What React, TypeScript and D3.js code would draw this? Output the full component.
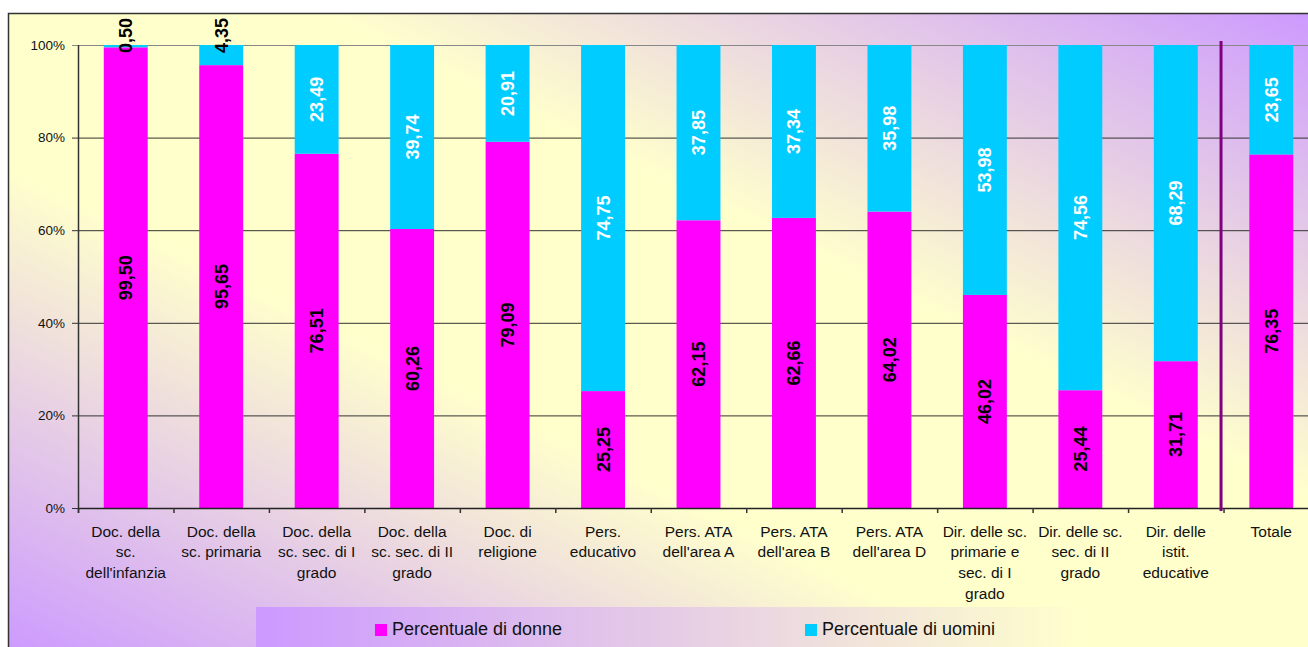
import React from 'react'
import * as d3 from 'd3'

// categorie (righe delle etichette dell'asse)
const categories = [
  ['Doc. della', 'sc.', "dell'infanzia"],
  ['Doc. della', 'sc. primaria'],
  ['Doc. della', 'sc. sec. di I', 'grado'],
  ['Doc. della', 'sc. sec. di II', 'grado'],
  ['Doc. di', 'religione'],
  ['Pers.', 'educativo'],
  ['Pers. ATA', "dell'area A"],
  ['Pers. ATA', "dell'area B"],
  ['Pers. ATA', "dell'area D"],
  ['Dir. delle sc.', 'primarie e', 'sec. di I', 'grado'],
  ['Dir. delle sc.', 'sec. di II', 'grado'],
  ['Dir. delle', 'istit.', 'educative'],
  ['Totale'],
]

const donne = [99.5, 95.65, 76.51, 60.26, 79.09, 25.25, 62.15, 62.66, 64.02, 46.02, 25.44, 31.71, 76.35]
const uomini = [0.5, 4.35, 23.49, 39.74, 20.91, 74.75, 37.85, 37.34, 35.98, 53.98, 74.56, 68.29, 23.65]

const yTicks = [0, 20, 40, 60, 80, 100]
const seriesNames = ['Percentuale di donne', 'Percentuale di uomini']
const colors = ['#FF00FF', '#00CCFF']

const FONT = 'Liberation Sans, Arial, sans-serif'

const fmt = (v: number) => d3.format('.2f')(v).replace('.', ',')

const App = () => {
  const left = 78
  const right = 1319
  const top = 45
  const bottom = 508

  const keys = categories.map((c) => c.join(' '))

  const x = d3
    .scaleBand()
    .domain(keys)
    .range([left, right])
    .paddingInner(0.54)
    .paddingOuter(0.27)

  const y = d3.scaleLinear().domain([0, 100]).range([bottom, top])

  const rows = keys.map((k, i) => ({ key: k, donne: donne[i], uomini: uomini[i] }))
  const stacked = d3.stack<any>().keys(['donne', 'uomini'])(rows)

  const step = x.step()
  const boundaries = d3.range(categories.length + 1).map((i) => left + i * step)

  return (
    <svg
      width={1308}
      height={647}
      style={{ position: 'absolute', left: 0, top: 0, display: 'block' }}
    >
      <defs>
        <linearGradient id="bg" x1="0" y1="1" x2="1" y2="0">
          <stop offset="0" stopColor="#CC99FF" />
          <stop offset="0.38" stopColor="#FFFFCC" />
          <stop offset="0.62" stopColor="#FFFFCC" />
          <stop offset="1" stopColor="#CC99FF" />
        </linearGradient>
        <linearGradient id="leg" x1="0" y1="0" x2="1" y2="0">
          <stop offset="0" stopColor="#CC99FF" />
          <stop offset="1" stopColor="#FFFFCC" />
        </linearGradient>
      </defs>

      {/* area del grafico */}
      <rect x={8.5} y={13.5} width={1310} height={642} fill="url(#bg)" stroke="#333" strokeWidth={1.5} />

      {/* griglia */}
      {yTicks.map((t) => (
        <line
          key={t}
          x1={left - 6}
          x2={right}
          y1={y(t) + 0.5}
          y2={y(t) + 0.5}
          stroke={t === 100 ? '#888' : '#333'}
          strokeWidth={1}
        />
      ))}

      {/* barre */}
      {stacked.map((s, si) =>
        s.map((d, i) => (
          <rect
            key={si + '-' + i}
            x={x(keys[i])}
            y={y(d[1])}
            width={x.bandwidth()}
            height={y(d[0]) - y(d[1])}
            fill={colors[si]}
          />
        ))
      )}

      {/* etichette dei valori */}
      {stacked.map((s, si) =>
        s.map((d, i) => {
          const v = si === 0 ? donne[i] : uomini[i]
          const cx = (x(keys[i]) || 0) + x.bandwidth() / 2
          const small = v < 10
          const cy = small ? top + 8 : (y(d[0]) + y(d[1])) / 2
          return (
            <text
              key={'l' + si + '-' + i}
              transform={`translate(${cx},${cy}) rotate(-90)`}
              textAnchor={small ? 'start' : 'middle'}
              dy="0.36em"
              fontFamily={FONT}
              fontSize={18}
              fontWeight="bold"
              fill={si === 0 || small ? '#000' : '#fff'}
            >
              {fmt(v)}
            </text>
          )
        })
      )}

      {/* asse y */}
      <line x1={left + 0.5} x2={left + 0.5} y1={top} y2={bottom + 5} stroke="#333" strokeWidth={1.5} />
      {yTicks.map((t) => (
        <text
          key={'y' + t}
          x={65}
          y={y(t)}
          dy="0.36em"
          textAnchor="end"
          fontFamily={FONT}
          fontSize={13.5}
          fill="#111"
        >
          {t}%
        </text>
      ))}

      {/* asse x */}
      <line x1={left} x2={right} y1={bottom + 0.5} y2={bottom + 0.5} stroke="#222" strokeWidth={1.5} />
      {boundaries.map((b, i) => (
        <line key={'t' + i} x1={b + 0.5} x2={b + 0.5} y1={bottom} y2={bottom + 5} stroke="#333" strokeWidth={1.5} />
      ))}
      {categories.map((lines, i) => (
        <text
          key={'c' + i}
          x={(x(keys[i]) || 0) + x.bandwidth() / 2}
          y={536.5}
          textAnchor="middle"
          fontFamily={FONT}
          fontSize={15.5}
          fill="#111"
        >
          {lines.map((ln, j) => (
            <tspan key={j} x={(x(keys[i]) || 0) + x.bandwidth() / 2} dy={j === 0 ? 0 : 20.8}>
              {ln}
            </tspan>
          ))}
        </text>
      ))}

      {/* linea separatrice prima del totale */}
      <line
        x1={boundaries[12] - 2.5}
        x2={boundaries[12] - 2.5}
        y1={41}
        y2={bottom + 3}
        stroke="#800080"
        strokeWidth={3}
      />

      {/* legenda */}
      <rect x={256} y={607} width={827} height={45} fill="url(#leg)" />
      {seriesNames.map((name, i) => {
        const lx = i === 0 ? 375 : 805
        return (
          <g key={name}>
            <rect x={lx} y={624} width={12} height={12} fill={colors[i]} />
            <text x={lx + 17} y={635} fontFamily={FONT} fontSize={18} fill="#111">
              {name}
            </text>
          </g>
        )
      })}
    </svg>
  )
}

export default App
